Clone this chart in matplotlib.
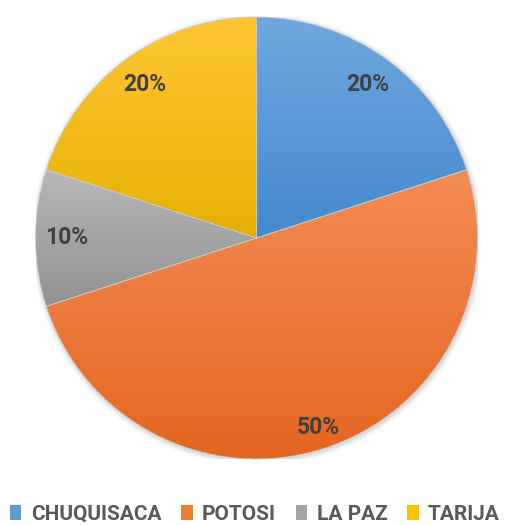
import numpy as np
import matplotlib
matplotlib.use("Agg")
import matplotlib.pyplot as plt
from matplotlib.colors import LinearSegmentedColormap
from matplotlib.patches import Patch, Circle

categories = ["CHUQUISACA", "POTOSI", "LA PAZ", "TARIJA"]
values = [20, 50, 10, 20]
top_colors = ["#70a7de", "#f28c55", "#b7b7b7", "#ffc633"]
bottom_colors = ["#4589cf", "#e4661e", "#929292", "#e6b000"]
base_colors = ["#5b9bd5", "#ed7d31", "#a5a5a5", "#ffc000"]

plt.rcParams['font.family'] = ['Roboto', 'DejaVu Sans']

W, H = 512, 525
fig = plt.figure(figsize=(W / 100, H / 100), dpi=100)
cx, cy, R = 256.5, 238, 221
ax = fig.add_axes([(cx - R) / W, (H - cy - R) / H, 2 * R / W, 2 * R / H])
ax.set_xlim(-1, 1)
ax.set_ylim(-1, 1)
ax.set_aspect('equal')
ax.axis('off')

# soft shadow
for i, a in enumerate([0.05, 0.04, 0.03, 0.02]):
    ax.add_patch(Circle((0.004, -0.006), 1.0 + 0.006 * (i + 1), color='black', alpha=a, lw=0, zorder=0))

wedges, texts, autotexts = ax.pie(
    values, colors=base_colors, startangle=90, counterclock=False,
    autopct=lambda p: f"{p:.0f}%", pctdistance=0.86, radius=1.0,
    wedgeprops=dict(linewidth=0.6, edgecolor='#c8c8c8'),
    textprops=dict(fontsize=16.5, fontweight='bold', color='#404040'))

for w, ct, cb in zip(wedges, top_colors, bottom_colors):
    cmap = LinearSegmentedColormap.from_list('g', [cb, ct])
    bb = w.get_path().get_extents(w.get_transform()).transformed(ax.transData.inverted())
    grad = np.linspace(0, 1, 256).reshape(-1, 1)
    im = ax.imshow(grad, cmap=cmap, origin='lower', aspect='auto',
                   extent=[bb.x0, bb.x1, bb.y0, bb.y1], zorder=1.5)
    im.set_clip_path(w)
ax.set_xlim(-1, 1)
ax.set_ylim(-1, 1)
for w in wedges:
    w.set_facecolor('none')
    w.set_zorder(2)
for t in autotexts:
    t.set_zorder(3)

# Potosi label sits a bit further out
x, y = autotexts[1].get_position()
autotexts[1].set_position((x * 0.90 / 0.86, y * 0.90 / 0.86))

handles = [Patch(facecolor=c, edgecolor='none') for c in base_colors]
fig.legend(handles, categories, loc='lower left', bbox_to_anchor=(10 / W, 1 / H),
           ncol=4, frameon=False, handlelength=0.55, handleheight=0.7,
           handletextpad=0.45, columnspacing=0.95, borderpad=0, borderaxespad=0,
           prop=dict(family=['Roboto', 'DejaVu Sans'], weight='bold', size=15),
           labelcolor='#595959')

fig.savefig("out.png", dpi=100)
